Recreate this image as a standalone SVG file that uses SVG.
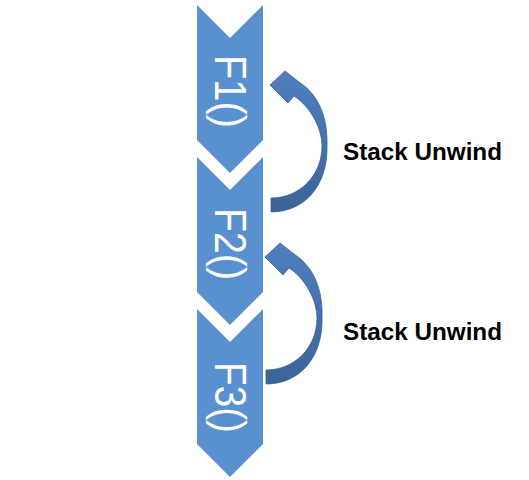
<svg xmlns="http://www.w3.org/2000/svg" width="529" height="480" viewBox="0 0 529 480">
  <defs>
    <linearGradient id="arrowGrad" x1="0" y1="0" x2="0" y2="1">
      <stop offset="0" stop-color="#4F7FC0"/>
      <stop offset="1" stop-color="#3B6399"/>
    </linearGradient>
    <path id="chev" d="M0,0 L33,33 L66,0 L66,135 L33,168 L0,135 Z"/>
    <path id="curvedArrow" d="M299,82 C319,95 328,118 327,146 C328,185 305,212 271,212 L271,198 C300,198 322,175 322,146 C322,129 311,107 294,96 L288,103 L270,85 L285,71 Z"/>
  </defs>
  <style>
    .chev { fill: #5890D0; }
    .ftext { font-family: "Liberation Sans", Arial, sans-serif; font-size: 44px; fill: #FFFFFF; }
    .arrow { fill: url(#arrowGrad); stroke: #3A6296; stroke-width: 0.8; stroke-linejoin: miter; }
    .label { font-family: "Liberation Sans", Arial, sans-serif; font-size: 24px; font-weight: bold; fill: #000000; }
  </style>
  <rect width="529" height="480" fill="#FFFFFF"/>

  <g id="node-f1">
    <use href="#chev" class="chev" x="197" y="5"/>
    <text class="ftext" transform="translate(215,55) rotate(90)" textLength="73" lengthAdjust="spacingAndGlyphs">F1()</text>
  </g>
  <g id="node-f2">
    <use href="#chev" class="chev" x="197" y="157"/>
    <text class="ftext" transform="translate(215,208) rotate(90)" textLength="72" lengthAdjust="spacingAndGlyphs">F2()</text>
  </g>
  <g id="node-f3">
    <use href="#chev" class="chev" x="197" y="309"/>
    <text class="ftext" transform="translate(215,362) rotate(90)" textLength="71" lengthAdjust="spacingAndGlyphs">F3()</text>
  </g>

  <g id="connectors">
    <use href="#curvedArrow" class="arrow"/>
    <use href="#curvedArrow" class="arrow" transform="translate(-5,172)"/>
    <text class="label" x="343" y="160" textLength="159" lengthAdjust="spacingAndGlyphs">Stack Unwind</text>
    <text class="label" x="343" y="340" textLength="159" lengthAdjust="spacingAndGlyphs">Stack Unwind</text>
  </g>
</svg>
